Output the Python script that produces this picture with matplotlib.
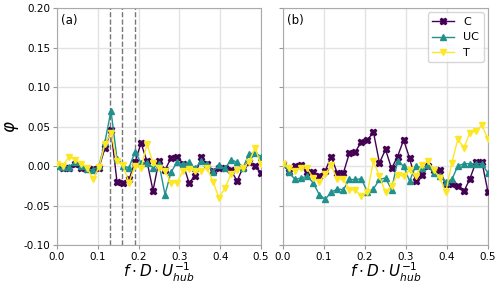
import matplotlib
matplotlib.use("Agg")
import matplotlib.pyplot as plt
import numpy as np

freq = np.linspace(0.0, 0.5, 35)
vlines = [0.13, 0.16, 0.19]

c_a = [0.0, -0.002, -0.002, 0.002, -0.002, -0.004, -0.004, -0.002, 0.023, 0.045,
       -0.020, -0.021, -0.017, 0.005, 0.029, 0.006, -0.031, 0.007, -0.005, 0.010,
       0.012, 0.003, -0.021, -0.013, 0.011, 0.002, -0.006, -0.002, -0.003, -0.005,
       -0.019, -0.002, 0.005, 0.000, -0.009]
uc_a = [0.0, -0.001, -0.001, 0.005, 0.0, -0.004, -0.005, 0.0, 0.031, 0.070,
        0.009, 0.0, -0.002, 0.018, 0.004, 0.004, -0.002, 0.003, -0.036, -0.008,
        0.005, 0.002, 0.005, -0.003, 0.006, 0.002, -0.007, 0.001, -0.003, 0.008,
        0.005, -0.002, 0.015, 0.017, 0.012]
t_a = [0.002, 0.0, 0.012, 0.008, 0.003, -0.002, -0.017, -0.001, 0.028, 0.042,
       0.006, 0.001, -0.021, 0.0, -0.003, 0.028, 0.004, -0.002, -0.006, -0.021,
       -0.021, -0.006, -0.004, -0.006, -0.006, -0.002, -0.020, -0.040, -0.028, -0.010,
       -0.005, -0.002, 0.005, 0.023, 0.002]

c_b = [0.002, -0.007, 0.0, 0.001, -0.007, -0.007, -0.013, -0.006, 0.012, -0.009,
       -0.009, 0.016, 0.018, 0.031, 0.033, 0.043, 0.004, 0.021, -0.003, 0.012,
       0.033, 0.010, -0.019, -0.011, 0.0, -0.005, -0.005, -0.023, -0.023, -0.025,
       -0.032, -0.016, 0.005, 0.005, -0.033]
uc_b = [0.002, -0.008, -0.017, -0.015, -0.013, -0.021, -0.036, -0.042, -0.033, -0.029,
        -0.030, -0.017, -0.017, -0.016, -0.033, -0.029, -0.017, -0.015, -0.030, 0.006,
        0.0, -0.019, 0.0, -0.002, 0.001, -0.009, -0.013, -0.020, -0.017, 0.0,
        0.003, 0.003, 0.003, 0.003, -0.009]
t_b = [0.002, -0.003, -0.006, -0.002, -0.003, -0.015, -0.020, -0.010, 0.001, -0.017,
       -0.017, -0.030, -0.030, -0.038, -0.033, 0.006, -0.013, -0.033, -0.025, -0.011,
       -0.013, -0.005, -0.013, 0.001, 0.006, -0.005, -0.015, -0.033, 0.004, 0.034,
       0.023, 0.042, 0.044, 0.052, 0.034]

series_names = ["C", "UC", "T"]
colors = {"C": "#440154", "UC": "#21918c", "T": "#fde725"}
markers = {"C": "X", "UC": "^", "T": "v"}

fig = plt.figure(figsize=(5.0, 2.85), dpi=100)
ax_a = fig.add_axes([0.114, 0.140, 0.408, 0.832])
ax_b = fig.add_axes([0.566, 0.140, 0.410, 0.832], sharey=ax_a)

panels = [
    (ax_a, "(a)", {"C": c_a, "UC": uc_a, "T": t_a}),
    (ax_b, "(b)", {"C": c_b, "UC": uc_b, "T": t_b}),
]

for ax, tag, data in panels:
    ax.grid(True, color="#e3e3e3", lw=1.0, zorder=0)
    ax.set_axisbelow(True)
    for name in series_names:
        ax.plot(freq, data[name], color=colors[name], marker=markers[name],
                ms=4.5, lw=1.0, label=name, zorder=3)
    ax.set_xlim(0, 0.5)
    ax.set_ylim(-0.1, 0.2)
    ax.set_xticks([0.0, 0.1, 0.2, 0.3, 0.4, 0.5])
    ax.set_yticks([-0.10, -0.05, 0.0, 0.05, 0.10, 0.15, 0.20])
    ax.tick_params(labelsize=7.5, color="#999999", length=3, pad=2)
    for sp in ax.spines.values():
        sp.set_color("#aaaaaa")
    ax.text(0.02, 0.975, tag, transform=ax.transAxes, ha="left", va="top", fontsize=8.5)
    ax.set_xlabel(r"$f \cdot D \cdot U_{hub}^{-1}$", fontsize=11, labelpad=0)
    ax.xaxis.set_label_coords(0.5, -0.068)

for v in vlines:
    ax_a.axvline(v, color="#777777", ls="--", lw=1.0, zorder=2)

ax_a.yaxis.set_major_formatter(matplotlib.ticker.FormatStrFormatter("%.2f"))
ax_a.set_ylabel(r"$\varphi$", fontsize=12)
ax_a.yaxis.set_label_coords(-0.175, 0.5)
plt.setp(ax_b.get_yticklabels(), visible=False)
ax_b.legend(loc="upper right", fontsize=8, framealpha=0.8, handlelength=2.0,
            borderaxespad=0.4)

fig.savefig("out.png", dpi=100)
